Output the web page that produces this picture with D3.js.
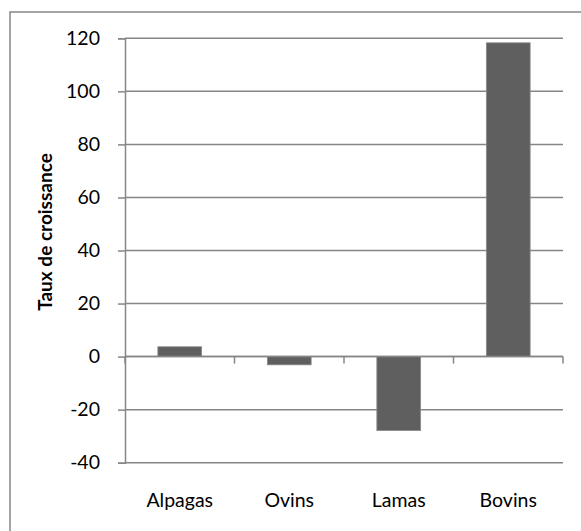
<!DOCTYPE html>
<html>
<head>
<meta charset="utf-8">
<script src="https://cdn.jsdelivr.net/npm/d3@7"></script>
<style>
  html, body { margin: 0; padding: 0; background: #fff; }
  svg { display: block; }
  text { font-family: Lato, "Open Sans", sans-serif; fill: #000; }
</style>
</head>
<body>
<svg id="chart" width="581" height="531"></svg>
<script>
const categories = ["Alpagas", "Ovins", "Lamas", "Bovins"];
const values = [3.7, -3.1, -27.9, 118.3];
const yTicks = [-40, -20, 0, 20, 40, 60, 80, 100, 120];
const yTitle = "Taux de croissance";

const plot = { left: 125, right: 563, top: 38.3, bottom: 462.7 };

const svg = d3.select("#chart");

// outer chart border (cropped on right/bottom)
svg.append("rect")
  .attr("x", 10).attr("y", 12)
  .attr("width", 700).attr("height", 700)
  .attr("fill", "#fff")
  .attr("stroke", "#868686")
  .attr("stroke-width", 1.5);

const x = d3.scaleBand()
  .domain(categories)
  .range([plot.left, plot.right])
  .paddingInner(0.6)
  .paddingOuter(0.3);

const y = d3.scaleLinear()
  .domain([d3.min(yTicks), d3.max(yTicks)])
  .range([plot.bottom, plot.top]);

// gridlines
svg.append("g")
  .selectAll("line")
  .data(yTicks)
  .join("line")
  .attr("x1", plot.left).attr("x2", plot.right)
  .attr("y1", d => y(d)).attr("y2", d => y(d))
  .attr("stroke", "#868686")
  .attr("stroke-width", 1.5);

// y axis
const yAxis = d3.axisLeft(y)
  .tickValues(yTicks)
  .tickSize(7)
  .tickPadding(18)
  .tickFormat(d => String(d));
const gy = svg.append("g")
  .attr("transform", `translate(${plot.left},0)`)
  .call(yAxis);
gy.select(".domain").attr("stroke", "#868686").attr("stroke-width", 1.5);
gy.selectAll(".tick line").attr("stroke", "#868686").attr("stroke-width", 1.5);
gy.selectAll(".tick text")
  .attr("font-size", 19.5)
  .attr("font-family", "Lato, 'Open Sans', sans-serif")
  .attr("fill", "#000");

// bars
svg.append("g")
  .selectAll("rect")
  .data(categories.map((c, i) => ({ c, v: values[i] })))
  .join("rect")
  .attr("x", d => x(d.c))
  .attr("width", x.bandwidth())
  .attr("y", d => y(Math.max(0, d.v)))
  .attr("height", d => Math.abs(y(d.v) - y(0)))
  .attr("fill", "#5f5f5f")
  .attr("stroke", "#8c8c8c")
  .attr("stroke-width", 0.8);

// x axis line at zero
const y0 = y(0);
svg.append("line")
  .attr("x1", plot.left).attr("x2", plot.right)
  .attr("y1", y0).attr("y2", y0)
  .attr("stroke", "#868686").attr("stroke-width", 1.5);

// x ticks at category boundaries
const step = x.step();
const boundaries = d3.range(categories.length + 1).map(i => plot.left + i * step);
svg.append("g")
  .selectAll("line")
  .data(boundaries)
  .join("line")
  .attr("x1", d => d).attr("x2", d => d)
  .attr("y1", y0).attr("y2", y0 + 7)
  .attr("stroke", "#868686").attr("stroke-width", 1.5);

// x category labels
svg.append("g")
  .selectAll("text")
  .data(categories)
  .join("text")
  .attr("x", d => x(d) + x.bandwidth() / 2)
  .attr("y", y(-40) + 44)
  .attr("text-anchor", "middle")
  .attr("font-size", 19.5)
  .text(d => d);

// y title
svg.append("text")
  .attr("transform", `translate(52,${232}) rotate(-90)`)
  .attr("text-anchor", "middle")
  .attr("font-size", 19)
  .attr("font-weight", "bold")
  .text(yTitle);
</script>
</body>
</html>
